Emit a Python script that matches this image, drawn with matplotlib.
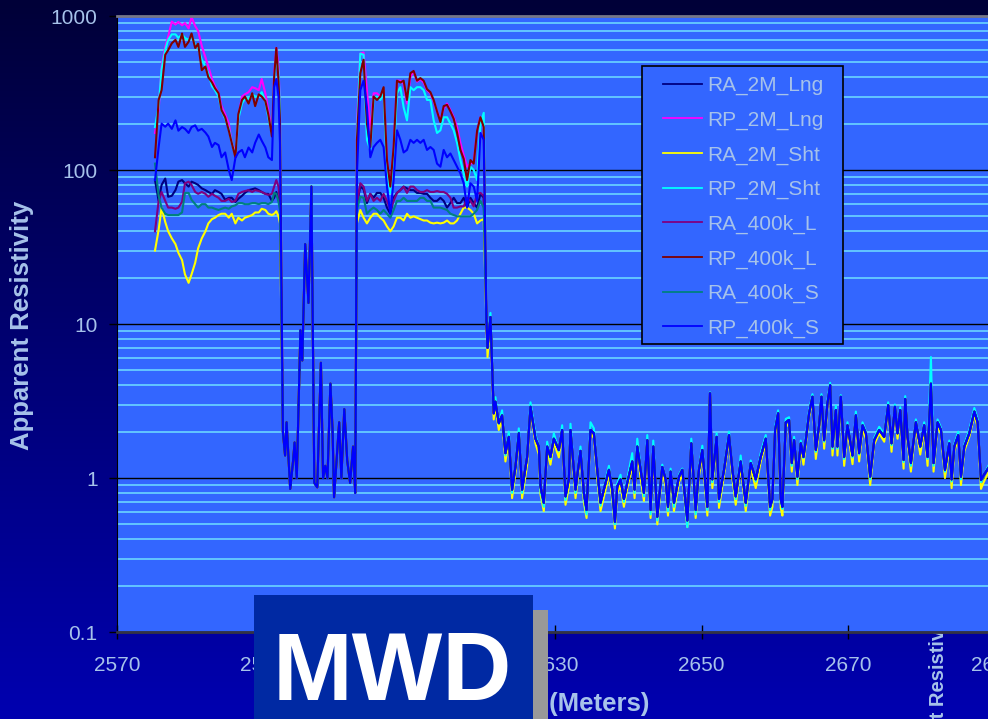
import numpy as np
import matplotlib
matplotlib.use('Agg')
import matplotlib.pyplot as plt
from matplotlib.patches import Rectangle
from matplotlib.colors import LinearSegmentedColormap
from matplotlib.ticker import LogLocator, NullFormatter

plt.rcParams['font.family'] = ['Liberation Sans', 'DejaVu Sans']

# ---------------- datos ----------------
# zona resistiva 1
prof_a = [2575.2, 2575.7, 2576.1, 2576.6, 2577.0, 2577.5, 2578.0, 2578.4, 2578.9, 2579.3,
          2579.8, 2580.2, 2580.7, 2581.1, 2581.6, 2582.1, 2582.5, 2583.0, 2583.4, 2583.9,
          2584.3, 2584.8, 2585.3, 2585.7, 2586.2, 2586.6, 2587.1, 2587.5, 2588.0, 2588.5,
          2588.9, 2589.4, 2589.8, 2590.3, 2590.7, 2591.2, 2591.5, 2591.8, 2592.1, 2592.3]
ra_2m_lng_a = [86, 63, 80, 88, 67, 68, 74, 84, 86, 82, 78, 84, 82, 80, 76, 74, 72, 70, 74, 72,
               70, 64, 66, 66, 62, 65, 68, 71, 74, 75, 76, 74, 72, 70, 70, 63, 66, 72, 64, 60]
rp_2m_lng_a = [174, 245, 470, 630, 735, 920, 880, 915, 870, 900, 830, 985, 860, 800, 640, 540, 470, 390, 350, 315,
               260, 230, 200, 150, 130, 220, 300, 310, 320, 345, 340, 330, 390, 315, 245, 174, 420, 620, 470, 245]
ra_2m_sht_a = [30, 41, 57, 46, 40, 36, 33, 29, 26, 21, 18.5, 21, 25, 31, 36, 40, 45, 48, 49, 51,
               52, 52, 49, 52, 45, 49, 47, 49, 50, 51, 53, 53, 56, 55, 52, 51, 52, 54, 50, 45]
rp_2m_sht_a = [190, 260, 450, 600, 700, 760, 760, 720, 760, 720, 700, 740, 650, 620, 520, 470, 420, 350, 330, 300,
               245, 215, 185, 150, 125, 215, 270, 290, 290, 310, 300, 300, 320, 280, 220, 170, 380, 560, 430, 250]
ra_400k_l_a = [40, 63, 72, 63, 57, 57, 56, 57, 62, 82, 84, 80, 72, 70, 72, 70, 67, 70, 68, 66,
               63, 63, 65, 62, 63, 70, 72, 73, 74, 72, 74, 73, 72, 70, 69, 70, 78, 86, 78, 60]
rp_400k_l_a = [121, 285, 330, 560, 600, 665, 700, 630, 770, 630, 680, 770, 620, 660, 445, 470, 400, 370, 340, 315,
               245, 220, 180, 150, 121, 230, 285, 300, 270, 315, 260, 310, 300, 280, 230, 165, 400, 620, 380, 210]
ra_400k_s_a = [110, 68, 57, 52, 51, 51, 51, 51, 53, 71, 71, 64, 60, 57, 60, 60, 57, 57, 56, 55,
               56, 57, 56, 58, 59, 61, 61, 60, 60, 61, 61, 60, 61, 61, 60, 62, 71, 70, 62, 55]
rp_400k_s_a = [86, 141, 200, 191, 200, 185, 210, 180, 190, 185, 174, 190, 195, 180, 185, 175, 165, 141, 150, 145,
               121, 130, 100, 86, 120, 130, 135, 121, 140, 130, 150, 170, 155, 140, 121, 116, 345, 390, 300, 150]

# capa conductiva intermedia (todas las curvas juntas)
prof_t = [2592.7, 2593.0, 2593.2, 2593.7, 2594.1, 2594.3, 2594.6, 2595.1, 2595.35, 2595.75,
          2596.2, 2596.6, 2597.0, 2597.4, 2597.9, 2598.2, 2598.5, 2598.8, 2599.2, 2599.5,
          2599.7, 2600.4, 2600.7, 2601.1, 2601.5, 2601.9, 2602.3, 2602.6]
transicion = [2.0, 1.4, 2.3, 0.85, 1.3, 1.7, 1.0, 9.1, 5.8, 33,
              13.7, 78, 0.93, 0.87, 5.6, 1.0, 1.2, 1.0, 4.1, 2.0,
              0.75, 2.3, 1.0, 2.8, 1.3, 0.93, 1.6, 0.8]

# zona resistiva 2
prof_b = [2602.83, 2603.29, 2603.74, 2604.20, 2604.66, 2605.11, 2605.57, 2606.03, 2606.48, 2606.94,
          2607.40, 2607.85, 2608.31, 2608.77, 2609.22, 2609.68, 2610.14, 2610.59, 2611.05, 2611.51,
          2611.96, 2612.42, 2612.88, 2613.33, 2613.79, 2614.25, 2614.70, 2615.16, 2615.62, 2616.07,
          2616.53, 2616.99, 2617.44, 2617.90, 2618.36, 2618.81, 2619.27, 2619.73, 2620.18]
ra_2m_lng_b = [60, 78, 75, 61, 70, 66, 71, 71, 66, 57, 52, 66, 71, 74, 78, 76, 74, 74, 71, 71,
               70, 70, 66, 63, 63, 66, 63, 57, 61, 66, 61, 61, 66, 57, 66, 61, 57, 70, 66]
rp_2m_lng_b = [201, 570, 580, 330, 181, 315, 315, 300, 330, 116, 78, 135, 380, 380, 365, 270, 400, 440, 375, 390,
               370, 330, 315, 280, 240, 215, 250, 270, 245, 220, 190, 150, 125, 105, 110, 112, 180, 220, 190]
ra_2m_sht_b = [45, 55, 49, 45, 49, 52, 52, 49, 47, 43, 40, 43, 49, 49, 47, 52, 49, 50, 49, 48,
               47, 47, 45.5, 45, 45.5, 45, 45.5, 47, 45, 45, 47, 52, 57, 57, 55, 52, 45, 47, 48]
rp_2m_sht_b = [174, 570, 560, 157, 135, 285, 300, 285, 315, 95, 71, 121, 315, 345, 255, 210, 345, 330, 345, 345,
               330, 285, 285, 210, 174, 181, 220, 220, 200, 181, 150, 116, 95, 78, 105, 100, 86, 200, 235]
ra_400k_l_b = [60, 82, 78, 63, 70, 63, 66, 63, 70, 63, 55, 63, 71, 74, 78, 71, 78, 78, 74, 72,
               72, 74, 72, 72, 73, 72, 72, 70, 66, 57, 57, 58, 58, 66, 63, 58, 70, 71, 68]
rp_400k_l_b = [157, 425, 520, 200, 141, 300, 285, 300, 345, 116, 78, 141, 380, 370, 380, 285, 425, 440, 380, 395,
               380, 335, 320, 285, 240, 205, 260, 265, 240, 215, 175, 135, 118, 86, 116, 110, 180, 220, 190]
ra_400k_s_b = [55, 67, 66, 52, 55, 57, 55, 52, 55, 52, 49, 55, 63, 63, 66, 63, 63, 63, 63, 66,
               66, 63, 63, 57, 57, 57, 56, 55, 52, 51, 50, 50, 50, 50, 50, 52, 55, 63, 57]
rp_400k_s_b = [95, 330, 380, 255, 121, 141, 150, 157, 141, 78, 52, 86, 181, 157, 130, 135, 157, 150, 157, 150,
               157, 135, 141, 135, 110, 105, 135, 121, 128, 116, 105, 95, 82, 57, 82, 78, 63, 174, 157]

# zona conductiva inferior
prof_c = [2620.55, 2620.7, 2621.1, 2621.55, 2621.78, 2622.24, 2622.69, 2623.15, 2623.61, 2624.06,
          2624.52, 2624.98, 2625.43, 2626.12, 2626.58, 2627.26, 2627.72, 2627.95, 2628.40, 2628.86,
          2629.31, 2629.77, 2630.46, 2630.91, 2631.37, 2631.83, 2632.05, 2632.74, 2633.42, 2633.88,
          2634.25, 2634.79, 2635.25, 2635.71, 2636.16, 2636.85, 2637.31, 2637.76, 2638.13, 2638.45,
          2638.90, 2639.36, 2639.82, 2640.50, 2640.82, 2641.19, 2641.64, 2642.10, 2642.56, 2643.01,
          2643.38, 2643.93, 2644.61, 2645.07, 2645.39, 2645.75, 2646.21, 2646.90, 2647.35, 2648.04,
          2648.58, 2649.18, 2649.63, 2650.09, 2650.78, 2651.14, 2651.46, 2652.05, 2652.37, 2653.06,
          2653.74, 2654.20, 2654.66, 2655.34, 2656.03, 2656.71, 2657.40, 2658.08, 2658.77, 2659.36,
          2659.68, 2660.05, 2660.46, 2660.82, 2661.05, 2661.51, 2661.96, 2662.33, 2662.65, 2663.10,
          2663.56, 2663.93, 2664.25, 2664.70, 2665.16, 2665.62, 2666.07, 2666.39, 2666.76, 2667.21,
          2667.58, 2667.90, 2668.36, 2668.58, 2669.04, 2669.50, 2669.95, 2670.64, 2671.10, 2671.55,
          2672.01, 2672.47, 2673.06, 2673.61, 2674.29, 2674.98, 2675.52, 2675.98, 2676.44, 2676.80,
          2677.17, 2677.63, 2677.85, 2678.17, 2678.63, 2679.31, 2679.91, 2680.45, 2680.91, 2681.37,
          2681.73, 2682.28, 2682.74, 2683.29, 2683.88, 2684.20, 2684.57, 2685.11, 2685.48, 2685.94,
          2686.62, 2687.31, 2687.76, 2688.22, 2688.63, 2689.3, 2690.0]
cond_base = [10.6, 7.0, 11.1, 2.63, 3.13, 2.27, 2.55, 1.45, 1.85, 0.84,
             1.18, 1.95, 0.84, 1.37, 2.9, 1.8, 1.6, 0.88, 0.69, 1.6,
             1.37, 1.8, 1.52, 2.05, 0.76, 0.98, 2.05, 0.84, 1.5, 0.8,
             0.62, 2.05, 1.95, 1.13, 0.69, 0.93, 1.13, 0.84, 0.52, 0.88,
             0.98, 0.73, 0.93, 1.28, 0.84, 1.6, 1.13, 0.8, 1.76, 0.62,
             1.6, 0.56, 1.18, 0.98, 0.65, 1.1, 0.69, 1.02, 1.13, 0.53,
             1.68, 0.62, 1.13, 1.52, 0.65, 3.55, 0.98, 1.85, 0.73, 1.13,
             1.9, 1.13, 0.76, 1.28, 0.69, 1.25, 0.98, 1.37, 1.8, 0.65,
             0.73, 2.05, 2.63, 0.73, 0.65, 2.3, 2.38, 1.25, 1.76, 1.02,
             1.68, 1.37, 1.76, 2.63, 3.37, 1.52, 2.2, 3.37, 1.76, 3.05,
             4.0, 1.6, 2.76, 1.6, 3.37, 1.37, 2.2, 1.4, 2.55, 1.45,
             2.2, 1.95, 1.02, 1.76, 2.05, 1.85, 2.97, 1.68, 2.9, 1.95,
             2.76, 1.31, 3.26, 1.85, 1.25, 2.3, 1.6, 2.2, 1.37, 4.1,
             1.25, 2.3, 2.05, 1.13, 1.68, 0.98, 1.6, 1.9, 1.02, 1.6,
             1.95, 2.7, 2.3, 0.97, 1.05, 1.18, 1.2]
cond_sht_a = [9.8, 6.1, 10.4, 2.4, 2.95, 2.05, 2.4, 1.28, 1.75, 0.74,
              1.08, 1.85, 0.74, 1.22, 2.75, 1.68, 1.42, 0.78, 0.61, 1.5,
              1.22, 1.7, 1.36, 1.95, 0.67, 0.88, 1.95, 0.74, 1.42, 0.7,
              0.55, 1.95, 1.82, 1.0, 0.61, 0.84, 1.06, 0.74, 0.47, 0.8,
              0.9, 0.65, 0.86, 1.2, 0.74, 1.5, 1.0, 0.71, 1.66, 0.55,
              1.5, 0.5, 1.1, 0.88, 0.57, 1.03, 0.61, 0.94, 1.05, 0.48,
              1.58, 0.55, 1.03, 1.42, 0.57, 3.3, 0.86, 1.75, 0.64, 1.05,
              1.8, 1.0, 0.67, 1.2, 0.61, 1.16, 0.86, 1.28, 1.7, 0.57,
              0.65, 1.92, 2.5, 0.64, 0.57, 2.15, 2.25, 1.1, 1.66, 0.9,
              1.58, 1.22, 1.66, 2.5, 3.2, 1.33, 2.07, 3.2, 1.55, 2.9,
              3.8, 1.4, 2.6, 1.4, 3.2, 1.2, 2.07, 1.23, 2.4, 1.28,
              2.07, 1.8, 0.9, 1.65, 1.95, 1.72, 2.82, 1.48, 2.75, 1.8,
              2.6, 1.15, 3.1, 1.72, 1.1, 2.18, 1.42, 2.07, 1.2, 3.9,
              1.1, 2.18, 1.93, 1.0, 1.58, 0.86, 1.5, 1.8, 0.9, 1.5,
              1.85, 2.57, 2.15, 0.85, 0.95, 1.1, 1.12]
cond_sht_p = [11.5, 7.2, 11.8, 2.75, 3.35, 2.25, 2.75, 1.4, 2.0, 0.8,
              1.2, 2.1, 0.8, 1.4, 3.1, 1.9, 1.6, 0.83, 0.65, 1.72,
              1.33, 1.95, 1.5, 2.2, 0.72, 1.0, 2.25, 0.8, 1.6, 0.76,
              0.58, 2.3, 2.1, 1.1, 0.66, 0.96, 1.2, 0.8, 0.5, 0.92,
              1.05, 0.7, 0.98, 1.45, 0.8, 1.8, 1.15, 0.76, 1.9, 0.58,
              1.75, 0.53, 1.22, 0.98, 0.61, 1.15, 0.65, 1.05, 1.15, 0.48,
              1.8, 0.58, 1.15, 1.62, 0.62, 3.6, 0.94, 1.95, 0.7, 1.15,
              2.0, 1.1, 0.73, 1.4, 0.66, 1.3, 0.95, 1.45, 1.9, 0.62,
              0.72, 2.15, 2.75, 0.7, 0.63, 2.42, 2.48, 1.2, 1.85, 0.98,
              1.75, 1.35, 1.85, 2.75, 3.5, 1.48, 2.3, 3.5, 1.72, 3.2,
              4.15, 1.55, 2.95, 1.55, 3.45, 1.33, 2.3, 1.36, 2.7, 1.42,
              2.3, 2.0, 0.98, 1.82, 2.15, 1.92, 3.1, 1.63, 3.0, 1.95,
              2.88, 1.27, 3.4, 1.9, 1.2, 2.4, 1.58, 2.3, 1.33, 6.1,
              1.2, 2.4, 2.12, 1.1, 1.75, 0.95, 1.65, 2.0, 0.98, 1.65,
              2.05, 2.85, 2.4, 0.94, 1.05, 1.22, 1.25]

nombres = ['RA_2M_Lng', 'RP_2M_Lng', 'RA_2M_Sht', 'RP_2M_Sht',
           'RA_400k_L', 'RP_400k_L', 'RA_400k_S', 'RP_400k_S']
colores = ['#000080', '#FF00FF', '#FFFF00', '#00FFFF',
           '#800080', '#800000', '#008080', '#0000FF']

profundidad = prof_a + prof_t + prof_b + prof_c
curvas = [
    ra_2m_lng_a + transicion + ra_2m_lng_b + cond_base,
    rp_2m_lng_a + transicion + rp_2m_lng_b + cond_base,
    ra_2m_sht_a + transicion + ra_2m_sht_b + cond_sht_a,
    rp_2m_sht_a + transicion + rp_2m_sht_b + cond_sht_p,
    ra_400k_l_a + transicion + ra_400k_l_b + cond_base,
    rp_400k_l_a + transicion + rp_400k_l_b + cond_base,
    ra_400k_s_a + transicion + ra_400k_s_b + cond_base,
    rp_400k_s_a + transicion + rp_400k_s_b + cond_base,
]

texto_claro = '#A6C2EA'
azul_grafico = '#3366FF'
W, H = 988, 719

fig = plt.figure(figsize=(W / 100, H / 100), dpi=100)

# fondo degradado
fondo = fig.add_axes([0, 0, 1, 1], zorder=-5)
fondo.axis('off')
degradado = LinearSegmentedColormap.from_list('fondo', ['#000038', '#0000B0'])
fondo.imshow(np.linspace(0, 1, 256).reshape(-1, 1), aspect='auto', cmap=degradado,
             extent=[0, 1, 0, 1])

ax = fig.add_axes([117 / W, (H - 632) / H, (994 - 117) / W, 616 / H])
ax.set_facecolor(azul_grafico)

lineas = []
for y, c, nombre in zip(curvas, colores, nombres):
    lineas += ax.plot(profundidad, y, color=c, lw=1.5, label=nombre)

ax.set_yscale('log')
ax.set_ylim(0.1, 1000)
ax.set_xlim(2570, 2690)
ax.set_xticks(range(2570, 2691, 20))
ax.set_yticks([0.1, 1, 10, 100, 1000])
ax.set_yticklabels(['0.1', '1', '10', '100', '1000'])
ax.yaxis.set_minor_locator(LogLocator(base=10, subs=range(2, 10)))
ax.yaxis.set_minor_formatter(NullFormatter())

ax.set_axisbelow(True)
ax.grid(which='minor', axis='y', color='#66CCFF', lw=1.3)
ax.grid(which='major', axis='y', color='black', lw=1.0)

ax.tick_params(axis='y', which='major', direction='out', length=6, width=1, color='black',
               labelsize=15, labelcolor=texto_claro, pad=8)
ax.tick_params(axis='y', which='minor', length=0)
ax.tick_params(axis='x', direction='inout', length=10, width=1, color='black',
               labelsize=15, labelcolor=texto_claro, pad=12)

ax.spines['left'].set_color('black')
ax.spines['bottom'].set_color('#333344')
ax.spines['bottom'].set_linewidth(2)
ax.spines['top'].set_color('#777788')
ax.spines['top'].set_linewidth(2)
ax.spines['right'].set_visible(False)

# cuadro de la leyenda (relleno que tapa la grilla) + leyenda encima
fig.add_artist(Rectangle((642 / W, 1 - 344 / H), (843 - 642) / W, (344 - 66) / H,
                         transform=fig.transFigure, facecolor=azul_grafico,
                         edgecolor='black', lw=1.2, zorder=4))
leg = fig.legend(lineas, nombres, loc='upper left', bbox_to_anchor=(663 / W, 1 - 76 / H),
                 frameon=False, fontsize=15, handlelength=1.875, handletextpad=0.25,
                 labelspacing=0.74, borderpad=0, borderaxespad=0)
leg.set_zorder(4.5)
for t in leg.get_texts():
    t.set_color(texto_claro)
for l in leg.get_lines():
    l.set_linewidth(1.3)

# titulos de ejes
fig.text(22 / W, 1 - 325 / H, 'Apparent Resistivity', rotation=90, ha='center', va='center',
         fontsize=18.5, fontweight='bold', color=texto_claro)
fig.text(649 / W, 1 - 704 / H, 'Depth (Meters)', ha='right', va='center',
         fontsize=18.5, fontweight='bold', color=texto_claro)
# rotulo de otro grafico que asoma detras
fig.text(938 / W, 1 - 703 / H, 'Apparent Resistivity', rotation=90, ha='center', va='center',
         fontsize=14.5, fontweight='bold', color=texto_claro, zorder=-1)

# recuadro MWD
fig.add_artist(Rectangle((533 / W, 0), 15 / W, (H - 610) / H, transform=fig.transFigure,
                         facecolor='#999999', edgecolor='none', zorder=5))
fig.add_artist(Rectangle((254 / W, 0), (533 - 254) / W, (H - 595) / H, transform=fig.transFigure,
                         facecolor='#0029A3', edgecolor='none', zorder=6))
fig.text(392 / W, 1 - 700 / H, 'MWD', ha='center', va='baseline', fontsize=69,
         fontweight='bold', color='white', zorder=7)

fig.savefig('out.png', dpi=100)
